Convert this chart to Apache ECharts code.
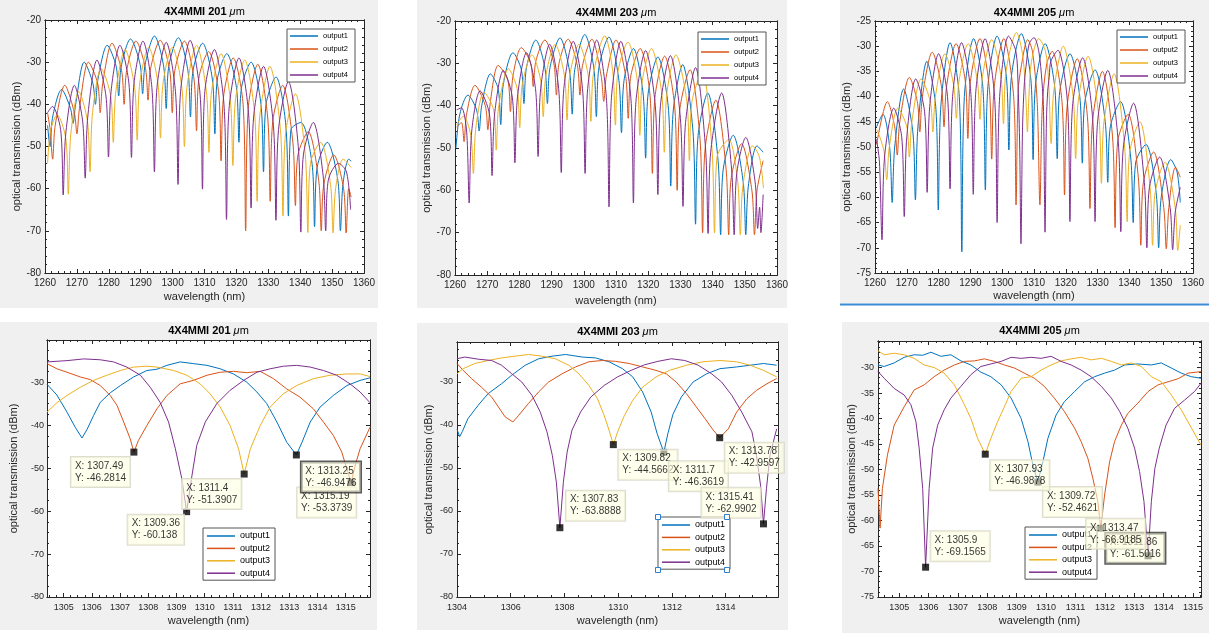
<!DOCTYPE html>
<html><head><meta charset="utf-8">
<script src="https://cdn.jsdelivr.net/npm/echarts@6/dist/echarts.min.js"></script>
<style>html,body{margin:0;padding:0;background:#fff}#c{width:1209px;height:633px}</style>
</head><body><div id="c"></div>
<script>
// ---------------- DATA ----------------
const seriesNames = ['output1','output2','output3','output4'];
const titles = ['201','203','205','201','203','205'];

// tick labels
const topXTicks = [1260,1270,1280,1290,1300,1310,1320,1330,1340,1350,1360];
const topYTicks = [-80,-70,-60,-50,-40,-30,-20];
const top205YTicks = [-75,-70,-65,-60,-55,-50,-45,-40,-35,-30,-25];
const b201XTicks = [1305,1306,1307,1308,1309,1310,1311,1312,1313,1314,1315];
const b203XTicks = [1304,1306,1308,1310,1312,1314];
const b205XTicks = [1305,1306,1307,1308,1309,1310,1311,1312,1313,1314,1315];
const b201YTicks = [-80,-70,-60,-50,-40,-30];
const b205YTicks = [-75,-70,-65,-60,-55,-50,-45,-40,-35,-30];

// ---- 4X4MMI 201 um, full sweep ----
const p201_o1 = [[1260.8,-45],[1261.6,-50],[1262.4,-43],[1265.2,-36.5],[1268.0,-41],[1268.8,-44.5],[1269.6,-40],[1272.3,-30],[1275.0,-35],[1275.8,-40],[1276.6,-34],[1279.5,-26],[1282.3,-31],[1283.1,-38],[1283.9,-31],[1286.8,-24.5],[1289.8,-30.5],[1290.6,-37.5],[1291.4,-30.5],[1294.3,-23.8],[1297.2,-31],[1298.0,-41],[1298.8,-31],[1301.8,-24.2],[1304.8,-32],[1305.6,-43],[1306.4,-32],[1309.4,-25.5],[1312.45,-34],[1313.25,-47],[1314.05,-34],[1317.0,-28],[1320.0,-36],[1320.8,-49],[1321.6,-36],[1324.6,-30],[1327.7,-40],[1328.5,-56],[1329.3,-40],[1332.4,-33.5],[1335.5,-45],[1336.3,-66.5],[1337.1,-46],[1340.2,-44.3],[1343.7,-54],[1344.5,-69],[1345.3,-55],[1348.5,-49],[1351.8,-58],[1352.6,-70],[1353.4,-59],[1355.2,-53],[1356,-53.5]];
const p201_o2 = [[1260.8,-42],[1261.6,-46],[1262.4,-53],[1263.2,-45],[1266.2,-35.5],[1269.2,-42],[1270.0,-47],[1270.8,-41],[1273.6,-30],[1276.5,-35],[1277.3,-42],[1278.1,-35],[1281.0,-25.5],[1284.0,-32],[1284.8,-40],[1285.6,-32],[1288.5,-25],[1291.5,-31.5],[1292.3,-39],[1293.1,-31.5],[1296.1,-24.8],[1299.1,-32],[1299.9,-42],[1300.7,-32],[1303.7,-25],[1306.7,-34],[1307.5,-46.3],[1308.3,-33.5],[1311.3,-27.5],[1314.4,-37],[1315.2,-53.4],[1316.0,-38],[1319.0,-29],[1322.1,-40],[1322.9,-70],[1323.7,-41],[1326.7,-30.5],[1329.8,-43],[1330.6,-63],[1331.4,-44],[1334.5,-35.5],[1337.7,-49],[1338.5,-64],[1339.3,-52],[1342.5,-46.5],[1345.8,-58],[1346.6,-70],[1347.4,-59],[1350.5,-52],[1353.6,-60],[1354.4,-70.5],[1355.2,-60],[1356,-62]];
const p201_o3 = [[1260.8,-54],[1261.8,-46],[1263.8,-42.5],[1266.5,-48],[1267.3,-61.3],[1268.1,-47],[1270.6,-37],[1273.3,-44],[1274.1,-56],[1274.9,-42],[1277.6,-31.5],[1280.6,-38],[1281.4,-49],[1282.2,-37],[1285.1,-27],[1288.1,-36],[1288.9,-48.5],[1289.7,-35],[1292.5,-26.5],[1295.4,-35],[1296.2,-48],[1297.0,-35],[1299.9,-26.5],[1302.9,-36],[1303.7,-50],[1304.5,-36],[1307.5,-26],[1310.6,-37],[1311.4,-51.4],[1312.2,-37],[1315.2,-28],[1318.1,-39],[1318.9,-54.5],[1319.7,-39],[1322.6,-29.5],[1325.7,-42],[1326.5,-63],[1327.3,-43],[1330.5,-31],[1333.8,-46],[1334.6,-66.5],[1335.4,-47],[1338.5,-37.5],[1341.6,-52],[1342.4,-70.4],[1343.2,-54],[1346.4,-49],[1349.5,-59],[1350.3,-70.5],[1351.1,-60],[1353.5,-53],[1356,-55]];
const p201_o4 = [[1260.8,-42],[1262.3,-40.5],[1264.9,-46],[1265.7,-61.5],[1266.5,-47],[1269.2,-35.5],[1271.8,-44],[1272.6,-57.5],[1273.4,-43],[1276.3,-29.5],[1279.1,-38],[1279.9,-52.5],[1280.7,-37],[1283.5,-26],[1286.3,-35],[1287.1,-52.6],[1287.9,-35],[1290.7,-25],[1293.5,-36],[1294.3,-56],[1295.1,-36],[1298.0,-25.3],[1300.9,-37],[1301.7,-59],[1302.5,-37],[1305.5,-24.8],[1308.6,-37.5],[1309.36,-60.1],[1310.1,-37],[1313.1,-27],[1316.1,-40],[1316.9,-67.3],[1317.7,-41],[1320.8,-29],[1323.8,-42],[1324.6,-64.6],[1325.4,-43],[1328.5,-31],[1331.6,-45],[1332.4,-67.5],[1333.2,-46],[1336.3,-34.6],[1339.4,-50],[1340.2,-70.3],[1341.0,-52],[1344.1,-44.3],[1347.2,-57],[1348.0,-70],[1348.8,-58],[1352.0,-54],[1354.5,-56],[1355.8,-65]];

// ---- 4X4MMI 203 um, full sweep ----
const p203_o1 = [[1260.3,-50],[1261.5,-42],[1264.0,-37.5],[1266.7,-41],[1267.5,-46],[1268.3,-40],[1271.0,-32.5],[1273.4,-36],[1274.2,-44.5],[1275.0,-35],[1278.0,-27.5],[1280.6,-31.5],[1281.4,-39.5],[1282.2,-31],[1285.1,-24.5],[1287.9,-31],[1288.7,-39.5],[1289.5,-31],[1292.6,-24],[1295.6,-32],[1296.4,-42],[1297.2,-31.5],[1300.3,-23.2],[1303.1,-31],[1303.9,-42.6],[1304.7,-31],[1307.8,-23.8],[1310.9,-34],[1311.7,-46.4],[1312.5,-34],[1315.4,-26.5],[1318.4,-37],[1319.2,-52.4],[1320.0,-37],[1323.0,-28.5],[1326.2,-40],[1327.0,-59],[1327.8,-41],[1330.7,-30.3],[1333.9,-46],[1334.7,-68],[1335.5,-47],[1338.5,-37],[1341.7,-53],[1342.5,-70.5],[1343.3,-55],[1346.4,-47],[1349.5,-58],[1350.3,-70.5],[1351.1,-59],[1353.8,-49.5],[1355.7,-51]];
const p203_o2 = [[1260.5,-45],[1262.0,-44],[1262.8,-48.5],[1263.6,-42],[1266.2,-35.2],[1269.4,-40],[1270.2,-45.7],[1271.0,-39],[1273.4,-30.5],[1276.4,-34],[1277.2,-41.4],[1278.0,-33],[1280.6,-26.3],[1283.5,-30],[1284.3,-35.5],[1285.1,-29.5],[1287.9,-24.5],[1290.7,-30],[1291.5,-37.5],[1292.3,-30],[1295.1,-24.3],[1298.0,-30.5],[1298.8,-37.5],[1299.6,-30.5],[1302.5,-24.3],[1305.4,-33],[1306.2,-39],[1307.0,-33],[1310.0,-24.5],[1313.0,-33],[1313.8,-43],[1314.6,-33],[1317.5,-26.5],[1320.5,-37],[1321.3,-56],[1322.1,-38],[1325.1,-28.3],[1328.2,-40],[1329.0,-60],[1329.8,-41],[1333.0,-31.5],[1336.1,-48],[1336.9,-70],[1337.7,-50],[1341.0,-38.7],[1344.2,-55],[1345.0,-70.5],[1345.8,-57],[1349.0,-49],[1352.2,-60],[1353.0,-70.5],[1353.8,-60],[1355.7,-53]];
const p203_o3 = [[1260.5,-44.5],[1262.6,-42.5],[1264.9,-47],[1265.7,-56],[1266.5,-45],[1269.0,-36.8],[1272.0,-41],[1272.8,-50.5],[1273.6,-40],[1276.6,-31.3],[1279.3,-36],[1280.1,-45.2],[1280.9,-35],[1283.9,-28],[1286.6,-34],[1287.4,-42.6],[1288.2,-33],[1291.1,-25.5],[1294.0,-33],[1294.8,-43.4],[1295.6,-33],[1298.5,-25.5],[1301.4,-33],[1302.2,-43.7],[1303.0,-32.5],[1306.5,-23.5],[1309.0,-32],[1309.82,-44.6],[1310.6,-32],[1313.7,-25],[1316.6,-34],[1317.4,-47],[1318.2,-34],[1321.0,-26.5],[1324.2,-37],[1325.0,-51],[1325.8,-37],[1328.6,-28],[1332.0,-39],[1332.8,-53],[1333.6,-39],[1336.8,-32],[1339.8,-50],[1340.6,-70],[1341.4,-52],[1345.0,-48],[1347.8,-58],[1348.6,-70.5],[1349.4,-59],[1352.4,-49.5],[1354.5,-52],[1355.8,-59.5]];
const p203_o4 = [[1260.5,-41],[1262.0,-40.5],[1263.6,-46],[1264.4,-63],[1265.2,-46],[1267.8,-36.5],[1270.7,-42],[1271.5,-56.5],[1272.3,-42],[1275.0,-31.7],[1277.8,-38],[1278.6,-53.5],[1279.4,-38],[1282.2,-27.5],[1285.0,-36],[1285.8,-52],[1286.6,-36],[1289.4,-25.5],[1292.2,-36],[1293.0,-55.8],[1293.8,-36],[1296.7,-24.8],[1299.6,-36],[1300.4,-56],[1301.2,-36],[1304.0,-24.5],[1307.0,-38],[1307.83,-63.9],[1308.6,-38],[1311.5,-24.8],[1314.6,-38],[1315.41,-63],[1316.2,-39],[1319.2,-27],[1322.2,-40],[1323.0,-61],[1323.8,-40],[1326.9,-28.2],[1330.0,-43],[1330.8,-63.8],[1331.6,-44],[1334.7,-31],[1337.8,-50],[1338.6,-70.2],[1339.4,-51],[1342.8,-37],[1345.9,-55],[1346.7,-70.5],[1347.5,-56],[1350.3,-47.5],[1353.2,-58],[1354.0,-69],[1354.6,-64],[1355.0,-70],[1355.7,-61]];

// ---- 4X4MMI 205 um, full sweep ----
const p205_o1 = [[1260.5,-46],[1262.5,-43.5],[1264.6,-50],[1265.4,-61],[1266.2,-50],[1269.0,-38.5],[1271.9,-47],[1272.7,-60.5],[1273.5,-46],[1276.3,-33],[1279.1,-42],[1279.9,-62.5],[1280.7,-42],[1283.6,-29.3],[1286.5,-40],[1287.3,-70.8],[1288.1,-40],[1291.0,-28.5],[1293.9,-38],[1294.7,-58.5],[1295.5,-38],[1298.4,-28],[1301.3,-36],[1302.1,-50.6],[1302.9,-36],[1306.0,-27.5],[1309.0,-36.5],[1309.72,-52.5],[1310.5,-37.5],[1313.5,-29.5],[1316.5,-38],[1317.3,-52.3],[1318.1,-39],[1321.3,-31.5],[1324.4,-40],[1325.2,-53.2],[1326.0,-41],[1329.2,-34.7],[1332.4,-45],[1333.2,-57],[1334.0,-46],[1337.2,-41],[1340.4,-52],[1341.2,-65],[1342.0,-53],[1345.2,-49.5],[1348.4,-59],[1349.2,-70],[1350.0,-60],[1353.0,-52.5],[1355.0,-55],[1356.0,-61]];
const p205_o2 = [[1260.5,-49.5],[1263.9,-41],[1266.2,-46],[1267.0,-51.6],[1267.8,-45],[1270.8,-36.2],[1273.3,-41],[1274.1,-47],[1274.9,-40],[1278.0,-31.2],[1280.9,-38],[1281.7,-46],[1282.5,-38],[1285.5,-29.5],[1288.4,-37],[1289.2,-48.3],[1290.0,-37],[1293.0,-28.5],[1295.9,-38],[1296.7,-52.4],[1297.5,-38],[1300.5,-28.5],[1303.6,-40],[1304.35,-61.5],[1305.0,-39],[1306.0,-34],[1308.0,-28.7],[1309.5,-31],[1311.0,-41],[1311.86,-61.5],[1312.6,-42],[1314.0,-33.5],[1315.7,-31],[1318.8,-41],[1319.6,-59.5],[1320.4,-42],[1323.6,-32.5],[1326.8,-44],[1327.6,-62.2],[1328.4,-45],[1331.5,-35],[1334.7,-48],[1335.5,-66],[1336.3,-49],[1339.6,-43.5],[1342.8,-56],[1343.6,-69.5],[1344.4,-57],[1347.6,-51],[1350.8,-62],[1351.6,-70.2],[1352.4,-62],[1354.5,-54],[1356.0,-56]];
const p205_o3 = [[1260.5,-46.5],[1261.5,-48],[1262.9,-51],[1263.7,-56.5],[1264.5,-50],[1267.2,-42.3],[1270.0,-46],[1270.8,-52],[1271.6,-45],[1274.5,-36.5],[1277.4,-41],[1278.2,-47],[1279.0,-40],[1282.0,-31.5],[1284.8,-38],[1285.6,-44.3],[1286.4,-37],[1289.3,-29.5],[1292.2,-37],[1293.0,-44.5],[1293.8,-36],[1296.7,-28.7],[1299.6,-36],[1300.4,-45.4],[1301.2,-35],[1304.5,-27.3],[1306.5,-32],[1307.5,-41],[1307.93,-47],[1308.4,-40],[1309.2,-33],[1311.5,-28.5],[1313.6,-31],[1314.6,-37],[1315.4,-49.3],[1316.2,-39],[1319.2,-30],[1322.3,-40],[1323.1,-52.3],[1323.9,-41],[1327.0,-32],[1330.4,-44],[1331.2,-57.2],[1332.0,-45],[1335.2,-35.5],[1338.5,-50],[1339.3,-64.8],[1340.1,-51],[1343.3,-45],[1346.5,-58],[1347.3,-69.5],[1348.1,-59],[1351.2,-53],[1354.4,-62],[1355.2,-70.5],[1356.0,-65.5]];
const p205_o4 = [[1260.5,-48.5],[1261.4,-53],[1262.2,-68.4],[1263.0,-52],[1265.9,-42.3],[1268.4,-48],[1269.2,-63.8],[1270.0,-48],[1272.8,-36.5],[1275.6,-43],[1276.4,-59],[1277.2,-42],[1280.0,-31.5],[1282.8,-40],[1283.6,-58.3],[1284.4,-40],[1287.2,-29.3],[1290.1,-39],[1290.9,-59.4],[1291.7,-39],[1294.6,-28.5],[1297.6,-40],[1298.4,-65],[1299.2,-40],[1302.0,-28],[1304.3,-31],[1305.0,-38],[1305.5,-50],[1305.9,-69.2],[1306.4,-46],[1307.0,-37],[1307.5,-34],[1308.5,-29.5],[1310.0,-28.3],[1311.5,-31],[1312.5,-37],[1313.0,-43],[1313.47,-66.9],[1313.9,-45],[1314.3,-39],[1314.8,-36],[1315.3,-33],[1317.5,-30.8],[1320.5,-41],[1321.3,-64.8],[1322.1,-42],[1325.3,-32.3],[1328.4,-44],[1329.2,-64.8],[1330.0,-45],[1333.2,-34.8],[1336.5,-49],[1337.3,-66.8],[1338.1,-50],[1341.3,-41.3],[1344.7,-57],[1345.5,-70],[1346.3,-58],[1349.5,-52],[1352.8,-62],[1353.6,-70.4],[1354.4,-63],[1356.0,-58]];

// ---- zoomed views ----
const b201_o1 = [[1304.41,-30.5],[1304.76,-33],[1305.12,-37],[1305.41,-40.5],[1305.65,-43],[1305.83,-41],[1306.06,-37.8],[1306.3,-34.7],[1306.65,-32.5],[1307.01,-30.8],[1307.48,-28.8],[1307.95,-27.3],[1308.31,-27],[1308.66,-26.1],[1309.13,-25.3],[1309.6,-25.7],[1310.08,-26.1],[1310.55,-26.9],[1311.02,-28.1],[1311.49,-30],[1311.85,-32.3],[1312.2,-35],[1312.56,-39.3],[1312.91,-44],[1313.25,-46.95],[1313.45,-44],[1313.74,-39.3],[1314.09,-35.8],[1314.56,-33.1],[1315.04,-30.8],[1315.51,-29.6],[1315.86,-29]];
const b201_o2 = [[1304.41,-25.7],[1304.76,-26.9],[1305.12,-27.7],[1305.59,-28.8],[1305.94,-29.4],[1306.3,-30.8],[1306.65,-33.1],[1306.89,-35.4],[1307.13,-39.3],[1307.36,-43.2],[1307.49,-46.28],[1307.65,-43.6],[1307.95,-40.1],[1308.31,-36.2],[1308.66,-33.1],[1309.13,-30.4],[1309.6,-29.6],[1310.08,-28.4],[1310.55,-27.7],[1311.02,-27.5],[1311.49,-27.8],[1311.97,-27.5],[1312.44,-29.2],[1312.91,-31.6],[1313.38,-33.5],[1313.85,-36.2],[1314.21,-39.3],[1314.56,-42.4],[1314.86,-46.3],[1315.04,-50.2],[1315.19,-53.37],[1315.35,-49],[1315.51,-45.5],[1315.86,-40.5]];
const b201_o3 = [[1304.41,-37],[1304.76,-34.8],[1305.12,-33.1],[1305.59,-31.2],[1306.06,-29.6],[1306.53,-28.4],[1307.01,-27.3],[1307.48,-26.5],[1307.95,-26.3],[1308.31,-26.5],[1308.9,-27.3],[1309.37,-28.4],[1309.84,-30.4],[1310.19,-32.7],[1310.55,-35.8],[1310.9,-40.1],[1311.2,-45.5],[1311.4,-51.39],[1311.62,-45.5],[1311.97,-40.1],[1312.32,-35.8],[1312.79,-32.7],[1313.26,-30.8],[1313.85,-29.2],[1314.44,-28.4],[1315.04,-28.1],[1315.51,-28.1],[1315.86,-28.7]];
const b201_o4 = [[1304.41,-25.3],[1305.12,-25],[1305.71,-24.6],[1306.3,-24.8],[1306.77,-25.3],[1307.24,-26.5],[1307.72,-28.4],[1308.07,-31.2],[1308.42,-34.7],[1308.72,-39.3],[1308.96,-45.5],[1309.19,-52.5],[1309.36,-60.14],[1309.55,-51.7],[1309.72,-44.7],[1310.02,-39.3],[1310.43,-35],[1310.9,-31.9],[1311.38,-29.6],[1311.85,-27.7],[1312.32,-26.9],[1312.79,-26.3],[1313.26,-26.1],[1313.74,-26.5],[1314.21,-27.3],[1314.68,-28.4],[1315.15,-30.4],[1315.51,-32.3],[1315.86,-34.8]];

const b203_o1 = [[1304,-41],[1304.1,-42.7],[1304.2,-41.5],[1304.41,-38.5],[1304.79,-35.4],[1305.16,-32.7],[1305.66,-30.4],[1306.04,-28.4],[1306.54,-26.1],[1307.04,-24.6],[1307.54,-24],[1308.04,-23.6],[1308.66,-24.2],[1309.16,-24.4],[1309.66,-25.3],[1310.16,-26.9],[1310.54,-28.8],[1310.91,-32.3],[1311.23,-37],[1311.45,-42],[1311.7,-46.36],[1311.85,-42],[1312.04,-37.5],[1312.35,-33.5],[1312.79,-30],[1313.29,-28.1],[1313.79,-26.9],[1314.41,-26.5],[1314.91,-26.1],[1315.41,-25.7],[1315.9,-26.1]];
const b203_o2 = [[1304,-25.7],[1304.23,-27.3],[1304.54,-29.2],[1304.91,-31.2],[1305.29,-33.5],[1305.54,-35.8],[1305.79,-38.1],[1306.08,-39.3],[1306.29,-37.8],[1306.66,-35],[1307.04,-32.3],[1307.41,-30],[1307.91,-28.1],[1308.41,-26.5],[1308.91,-25.3],[1309.41,-25],[1309.91,-25.2],[1310.41,-25.7],[1310.91,-26.5],[1311.41,-27.3],[1311.79,-28.1],[1312.16,-30],[1312.54,-32.7],[1312.91,-35.8],[1313.23,-38.5],[1313.54,-41.2],[1313.78,-42.96],[1314.1,-40.9],[1314.41,-37],[1314.79,-33.9],[1315.16,-31.9],[1315.54,-30.4],[1315.9,-29.2]];
const b203_o3 = [[1304,-28.1],[1304.23,-26.9],[1304.66,-25.7],[1305.16,-25],[1305.66,-24.4],[1306.16,-24],[1306.66,-23.6],[1307.16,-24],[1307.66,-24.6],[1308.16,-26.1],[1308.54,-28.1],[1308.91,-30.8],[1309.23,-33.9],[1309.48,-37.8],[1309.66,-41.2],[1309.82,-44.57],[1309.98,-41.6],[1310.23,-37.8],[1310.54,-34.3],[1310.91,-31.2],[1311.41,-28.8],[1311.91,-27.3],[1312.54,-26.1],[1313.16,-25.3],[1313.79,-25],[1314.41,-25.3],[1314.91,-26.1],[1315.41,-27.3],[1315.9,-28.8]];
const b203_o4 = [[1304,-24.6],[1304.29,-24.2],[1304.79,-24.7],[1305.29,-25],[1305.66,-26.1],[1306.04,-28.1],[1306.41,-30],[1306.79,-33.1],[1307.1,-37],[1307.35,-41.6],[1307.55,-47.1],[1307.7,-53.3],[1307.83,-63.89],[1307.96,-53.3],[1308.1,-46.3],[1308.28,-41.2],[1308.6,-37],[1308.98,-33.5],[1309.48,-30.8],[1309.98,-28.8],[1310.48,-27.3],[1310.98,-26],[1311.48,-25.2],[1311.98,-24.6],[1312.48,-25],[1312.98,-26.1],[1313.48,-28.1],[1313.85,-30],[1314.23,-33.1],[1314.6,-37],[1314.98,-41.6],[1315.15,-47.1],[1315.3,-54],[1315.41,-62.99],[1315.52,-54.8],[1315.65,-47.1],[1315.9,-40.9]];

const b205_o1 = [[1304.28,-29.5],[1304.49,-29.8],[1304.83,-29.1],[1305.17,-28],[1305.51,-27.5],[1305.8,-27.6],[1306.08,-27],[1306.42,-27.8],[1306.76,-27.5],[1307.1,-28.7],[1307.44,-29.5],[1307.78,-30.9],[1308.12,-31.8],[1308.47,-33.4],[1308.81,-36],[1309.15,-40],[1309.38,-44.5],[1309.55,-49.1],[1309.72,-52.46],[1309.89,-48.5],[1310.06,-43.9],[1310.34,-39.3],[1310.62,-36.7],[1310.97,-34.7],[1311.31,-32.8],[1311.65,-31.8],[1311.99,-31.1],[1312.33,-30.5],[1312.67,-29.5],[1313.12,-29.3],[1313.58,-29.5],[1313.92,-29.1],[1314.26,-30.1],[1314.6,-31.1],[1314.94,-31.8],[1315.27,-32.1]];
const b205_o2 = [[1304.28,-53.7],[1304.35,-61.5],[1304.43,-53.7],[1304.6,-47.2],[1304.83,-41.3],[1305.17,-37.7],[1305.51,-34.4],[1305.85,-33.4],[1306.19,-31.8],[1306.53,-30.5],[1306.88,-29.5],[1307.22,-28.8],[1307.56,-28.7],[1307.9,-28.3],[1308.24,-28.8],[1308.58,-29.5],[1308.92,-30.1],[1309.26,-31.1],[1309.6,-32.1],[1309.94,-33.7],[1310.28,-36],[1310.62,-38.6],[1310.97,-41.9],[1311.19,-44.5],[1311.42,-47.8],[1311.59,-51.7],[1311.76,-56.3],[1311.86,-61.5],[1311.99,-55],[1312.16,-48.5],[1312.33,-44.5],[1312.56,-41.3],[1312.78,-39],[1313.12,-37],[1313.47,-34.7],[1313.81,-33.4],[1314.15,-32.8],[1314.49,-32.2],[1314.83,-31.1],[1315.27,-30.8]];
const b205_o3 = [[1304.28,-26.7],[1304.49,-27.5],[1304.83,-27.2],[1305.17,-27.5],[1305.51,-28.2],[1305.85,-29.5],[1306.19,-30],[1306.53,-31.1],[1306.88,-33.4],[1307.22,-37.3],[1307.44,-40],[1307.67,-43.9],[1307.93,-46.99],[1308.12,-43.9],[1308.35,-40.6],[1308.58,-37.7],[1308.81,-34.7],[1309.15,-32.1],[1309.49,-31.8],[1309.83,-30.5],[1310.17,-29.5],[1310.51,-28.7],[1310.85,-28.3],[1311.19,-28],[1311.53,-28.5],[1311.88,-28.2],[1312.22,-28.8],[1312.56,-29.5],[1312.9,-29.1],[1313.24,-29.8],[1313.58,-31.8],[1313.92,-32.8],[1314.26,-35.4],[1314.6,-38.3],[1314.89,-41.3],[1315.27,-45.2]];
const b205_o4 = [[1304.28,-30.8],[1304.49,-32.1],[1304.83,-34.1],[1305.17,-35.4],[1305.4,-37.3],[1305.57,-40.6],[1305.68,-45.8],[1305.8,-53.7],[1305.9,-69.16],[1306.02,-53.7],[1306.14,-45.8],[1306.31,-41.3],[1306.53,-38.3],[1306.76,-36],[1307.1,-33.7],[1307.44,-31.4],[1307.78,-29.8],[1308.12,-29.3],[1308.47,-28.8],[1308.81,-28],[1309.15,-28.2],[1309.49,-28],[1309.83,-28.2],[1310.17,-27.8],[1310.51,-28.8],[1310.85,-29.5],[1311.19,-30.5],[1311.53,-31.8],[1311.88,-33.7],[1312.22,-36],[1312.5,-38.6],[1312.78,-41.9],[1313.01,-45.8],[1313.18,-50.4],[1313.33,-56.3],[1313.47,-66.92],[1313.58,-56.3],[1313.7,-49.8],[1313.85,-45.8],[1314.08,-41.3],[1314.37,-38],[1314.71,-36.4],[1315.05,-34.7],[1315.27,-33.1]];

// data tips (X, Y)
const tips201 = [[1307.49,-46.2814],[1309.36,-60.138],[1311.4,-51.3907],[1313.25,-46.9476],[1315.19,-53.3739]];
const tips203 = [[1307.83,-63.8888],[1309.82,-44.5662],[1311.7,-46.3619],[1313.78,-42.9597],[1315.41,-62.9902]];
const tips205 = [[1305.9,-69.1565],[1307.93,-46.9878],[1309.72,-52.4621],[1311.86,-61.5016],[1313.47,-66.9185]];

// ---------------- LAYOUT / STYLE ----------------
const COLORS = ['#0072BD','#D95319','#EDB120','#7E2F8E'];
const FONT = '"Liberation Sans", Arial, Helvetica, sans-serif';
const AXC = '#262626';
const TIP_BOX_OFFSETS = {
  b201: {off: [[-63,5],[-59,3],[-62,5],[5,7],[-54,5]], rank: [0,1,2,4,3], dark: [3]},
  b203: {off: [[6,-37],[5,5],[5,9],[5,5],[-62,-36]], rank: [0,1,2,3,4], dark: []},
  b205: {off: [[5,-36],[5,6],[5,5],[5,5],[-62,-37]], rank: [0,2,1,3,4], dark: [3]}
};

const panels = [
  {g:[45,20,319,253], x:[1260,1360], y:[-80,-20], xt:topXTicks, yt:topYTicks, xm:2, ym:2, fs:10,
   data:[p201_o1,p201_o2,p201_o3,p201_o4], lg:[287,29], top:true, xGap:18, yGap:21.5, tGap:3, xMar:5, yMar:4},
  {g:[455,21,322,254], x:[1260,1360], y:[-80,-20], xt:topXTicks, yt:topYTicks, xm:2, ym:2, fs:10,
   data:[p203_o1,p203_o2,p203_o3,p203_o4], lg:[698,32], top:true, xGap:20, yGap:23, tGap:3, xMar:5, yMar:4},
  {g:[875,21,318,252], x:[1260,1360], y:[-75,-25], xt:topXTicks, yt:top205YTicks, xm:2, ym:1, fs:10,
   data:[p205_o1,p205_o2,p205_o3,p205_o4], lg:[1117,30], top:true, xGap:17.5, yGap:19.5, tGap:3, xMar:5, yMar:4},
  {g:[47,340,323,257], x:[1304.41,1315.86], y:[-80,-20.2], xt:b201XTicks, yt:b201YTicks, xm:0.25, ym:2.5, fs:9,
   data:[b201_o1,b201_o2,b201_o3,b201_o4], lg:[203,528], top:false, xGap:18, yGap:28, tGap:4, xMar:6, yMar:3,
   tips:tips201, tl:TIP_BOX_OFFSETS.b201},
  {g:[457,342,321,255], x:[1304,1315.95], y:[-80,-20.7], xt:b203XTicks, yt:b201YTicks, xm:0.5, ym:2.5, fs:9,
   data:[b203_o1,b203_o2,b203_o3,b203_o4], lg:[658,517], top:false, xGap:18, yGap:22.5, tGap:5, xMar:6, yMar:4,
   tips:tips203, tl:TIP_BOX_OFFSETS.b203},
  {g:[878,341,323,256], x:[1304.28,1315.27], y:[-75,-24.8], xt:b205XTicks, yt:b205YTicks, xm:0.25, ym:1, fs:9,
   data:[b205_o1,b205_o2,b205_o3,b205_o4], lg:[1025,527], top:false, xGap:18, yGap:20.5, tGap:5, xMar:6, yMar:4,
   tips:tips205, tl:TIP_BOX_OFFSETS.b205}
];

function stepVals(min, max, step) {
  const out = [];
  for (let v = Math.ceil(min / step - 1e-9) * step; v <= max + 1e-9; v += step) out.push(Math.round(v * 1000) / 1000);
  return out;
}

const xAxes = [], yAxes = [], grids = [], series = [], legends = [];

panels.forEach((p, i) => {
  grids.push({left:p.g[0], top:p.g[1], width:p.g[2], height:p.g[3], show:true, backgroundColor:'#fff',
    borderWidth:0, containLabel:false, outerBoundsMode:'none'});
  const base = (isX, pos, ticks, len) => ({
    type:'value', gridIndex:i, position:pos, min:isX?p.x[0]:p.y[0], max:isX?p.x[1]:p.y[1],
    axisLine:{show:true, onZero:false, lineStyle:{color:AXC, width:1}},
    axisTick:{show:true, inside:true, length:len, customValues:ticks, lineStyle:{color:AXC, width:1}},
    axisLabel:{show:false}, splitLine:{show:false}, axisPointer:{show:false}, silent:true
  });
  const xMinor = stepVals(p.x[0], p.x[1], p.xm), yMinor = stepVals(p.y[0], p.y[1], p.ym);
  const xb = base(true, 'bottom', p.xt, 4);
  xb.axisLabel = {show:true, customValues:p.xt, formatter:v => String(v), color:AXC, fontSize:p.fs, fontFamily:FONT, margin:p.xMar};
  xb.name = 'wavelength (nm)'; xb.nameLocation = 'middle'; xb.nameGap = p.xGap;
  xb.nameTextStyle = {color:AXC, fontSize:11, fontFamily:FONT};
  const xt = base(true, 'top', p.xt, 4);
  xt.name = '4X4MMI ' + titles[i] + ' {mu|\u03bc}{n|m}'; xt.nameLocation = 'middle'; xt.nameGap = p.tGap;
  xt.nameTextStyle = {color:'#000', fontSize:11, fontWeight:'bold', fontFamily:FONT,
    rich:{mu:{fontStyle:'italic', fontWeight:'normal', fontSize:11, fontFamily:FONT, color:'#000'},
          n:{fontWeight:'normal', fontSize:11, fontFamily:FONT, color:'#000'}}};
  xAxes.push(xb, xt, base(true, 'bottom', xMinor, 2), base(true, 'top', xMinor, 2));
  const yl = base(false, 'left', p.yt, 4);
  yl.axisLabel = {show:true, customValues:p.yt, formatter:v => String(v), color:AXC, fontSize:p.fs, fontFamily:FONT, margin:p.yMar};
  yl.name = 'optical transmission (dBm)'; yl.nameLocation = 'middle'; yl.nameGap = p.yGap;
  yl.nameTextStyle = {color:AXC, fontSize:11, fontFamily:FONT};
  yAxes.push(yl, base(false, 'right', p.yt, 4), base(false, 'left', yMinor, 2), base(false, 'right', yMinor, 2));

  p.data.forEach((d, k) => {
    series.push({type:'line', name:seriesNames[k], xAxisIndex:4*i, yAxisIndex:4*i, data:d,
      symbol:'none', showSymbol:false, smooth:p.top ? 0.3 : false,
      lineStyle:{color:COLORS[k], width:1}, itemStyle:{color:COLORS[k]},
      silent:true, animation:false, z:2, emphasis:{disabled:true}});
  });

  if (p.tips) {
    series.push({type:'scatter', xAxisIndex:4*i, yAxisIndex:4*i, data:p.tips, symbol:'rect', symbolSize:7,
      itemStyle:{color:'#000'}, silent:true, animation:false, z:3, emphasis:{disabled:true}});
    p.tips.forEach((t, j) => {
      const off = p.tl.off[j], dark = p.tl.dark.indexOf(j) >= 0;
      series.push({type:'scatter', xAxisIndex:4*i, yAxisIndex:4*i, data:[t], symbol:'rect', symbolSize:7,
        itemStyle:{color:'rgba(0,0,0,0)'}, silent:true, animation:false, z:10 + p.tl.rank[j], emphasis:{disabled:true},
        label:{show:true, position:[off[0] + 3.5, off[1] + 3.5], align:'left', verticalAlign:'top',
          formatter:q => 'X: ' + q.value[0] + '\nY: ' + q.value[1],
          fontSize:10, fontFamily:FONT, color:'#000', lineHeight:12,
          backgroundColor:'rgba(255,255,225,0.72)', borderColor:dark ? '#333' : '#d4d4c4',
          borderWidth:dark ? 1.5 : 1, padding:[3,4,3,4]}});
    });
  }

  legends.push({data:seriesNames.map(n => ({name:n, icon:'rect'})), orient:'vertical', left:p.lg[0], top:p.lg[1],
    itemWidth:28, itemHeight:1.5,
    itemGap:p.top ? 3 : 2.4, padding:p.top ? [2,7,2,3] : [3,5,2,4], borderColor:'#555', borderWidth:1,
    backgroundColor:'#fff', selectedMode:false, z:4,
    textStyle:{fontSize:p.top ? 7.5 : 9, color:'#000', fontFamily:FONT, lineHeight:10}});
});

const panelRects = [[0,0,378,308],[417,0,370,308],[840,0,369,303],[0,322,377,308],[417,323,371,307],[842,322,367,311]];
const graphics = panelRects.map(r => ({type:'rect', shape:{x:r[0], y:r[1], width:r[2], height:r[3]},
  style:{fill:'#f0f0f0'}, z:-10, silent:true}));
graphics.push({type:'line', shape:{x1:840, y1:304.5, x2:1209, y2:304.5}, style:{stroke:'#3a8ad6', lineWidth:2}, z:-9, silent:true});
[[658,517],[727,517],[658,570],[727,570]].forEach(c => graphics.push({type:'rect',
  shape:{x:c[0]-2.5, y:c[1]-2.5, width:5, height:5}, style:{fill:'#fff', stroke:'#2d7fd0', lineWidth:1}, z:20, silent:true}));

const chart = echarts.init(document.getElementById('c'), null, {renderer:'canvas'});
chart.setOption({
  animation:false, backgroundColor:'#fff',
  grid:grids, xAxis:xAxes, yAxis:yAxes, series:series, legend:legends,
  graphic:{elements:graphics}
});
</script></body></html>
